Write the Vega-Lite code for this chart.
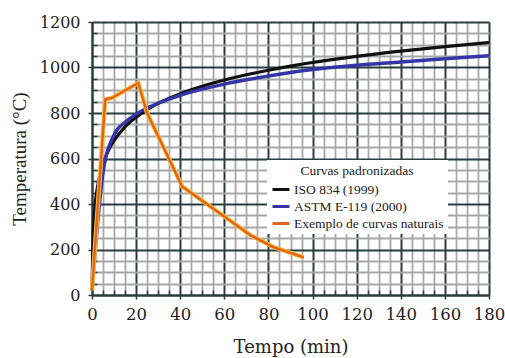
{
  "$schema": "https://vega.github.io/schema/vega-lite/v6.json",
  "width": 397,
  "height": 273,
  "autosize": {"type": "none"},
  "padding": {"left": 92, "top": 22, "right": 16, "bottom": 63},
  "background": "white",
  "config": {
    "view": {"stroke": null},
    "font": "Liberation Serif"
  },
  "datasets": {
    "curves": [
      {"t": 0, "T": 20, "s": "ISO 834 (1999)"},
      {"t": 0.5, "T": 261, "s": "ISO 834 (1999)"},
      {"t": 1, "T": 349, "s": "ISO 834 (1999)"},
      {"t": 1.5, "T": 404, "s": "ISO 834 (1999)"},
      {"t": 2, "T": 445, "s": "ISO 834 (1999)"},
      {"t": 3, "T": 502, "s": "ISO 834 (1999)"},
      {"t": 5, "T": 576, "s": "ISO 834 (1999)"},
      {"t": 7.5, "T": 636, "s": "ISO 834 (1999)"},
      {"t": 10, "T": 678, "s": "ISO 834 (1999)"},
      {"t": 15, "T": 739, "s": "ISO 834 (1999)"},
      {"t": 20, "T": 781, "s": "ISO 834 (1999)"},
      {"t": 25, "T": 815, "s": "ISO 834 (1999)"},
      {"t": 30, "T": 842, "s": "ISO 834 (1999)"},
      {"t": 40, "T": 885, "s": "ISO 834 (1999)"},
      {"t": 50, "T": 918, "s": "ISO 834 (1999)"},
      {"t": 60, "T": 945, "s": "ISO 834 (1999)"},
      {"t": 70, "T": 968, "s": "ISO 834 (1999)"},
      {"t": 80, "T": 988, "s": "ISO 834 (1999)"},
      {"t": 90, "T": 1006, "s": "ISO 834 (1999)"},
      {"t": 100, "T": 1022, "s": "ISO 834 (1999)"},
      {"t": 120, "T": 1049, "s": "ISO 834 (1999)"},
      {"t": 140, "T": 1072, "s": "ISO 834 (1999)"},
      {"t": 160, "T": 1092, "s": "ISO 834 (1999)"},
      {"t": 180, "T": 1110, "s": "ISO 834 (1999)"},
      {"t": 0, "T": 20, "s": "ASTM E-119 (2000)"},
      {"t": 5, "T": 538, "s": "ASTM E-119 (2000)"},
      {"t": 10, "T": 704, "s": "ASTM E-119 (2000)"},
      {"t": 15, "T": 759, "s": "ASTM E-119 (2000)"},
      {"t": 20, "T": 795, "s": "ASTM E-119 (2000)"},
      {"t": 25, "T": 822, "s": "ASTM E-119 (2000)"},
      {"t": 30, "T": 843, "s": "ASTM E-119 (2000)"},
      {"t": 40, "T": 878, "s": "ASTM E-119 (2000)"},
      {"t": 50, "T": 905, "s": "ASTM E-119 (2000)"},
      {"t": 60, "T": 927, "s": "ASTM E-119 (2000)"},
      {"t": 70, "T": 946, "s": "ASTM E-119 (2000)"},
      {"t": 80, "T": 963, "s": "ASTM E-119 (2000)"},
      {"t": 90, "T": 978, "s": "ASTM E-119 (2000)"},
      {"t": 100, "T": 991, "s": "ASTM E-119 (2000)"},
      {"t": 120, "T": 1010, "s": "ASTM E-119 (2000)"},
      {"t": 140, "T": 1024, "s": "ASTM E-119 (2000)"},
      {"t": 160, "T": 1038, "s": "ASTM E-119 (2000)"},
      {"t": 180, "T": 1052, "s": "ASTM E-119 (2000)"},
      {"t": 0, "T": 20, "s": "Exemplo de curvas naturais"},
      {"t": 6, "T": 860, "s": "Exemplo de curvas naturais"},
      {"t": 9, "T": 866, "s": "Exemplo de curvas naturais"},
      {"t": 21, "T": 932, "s": "Exemplo de curvas naturais"},
      {"t": 25, "T": 800, "s": "Exemplo de curvas naturais"},
      {"t": 41, "T": 475, "s": "Exemplo de curvas naturais"},
      {"t": 42.5, "T": 466, "s": "Exemplo de curvas naturais"},
      {"t": 72, "T": 262, "s": "Exemplo de curvas naturais"},
      {"t": 82, "T": 212, "s": "Exemplo de curvas naturais"},
      {"t": 96, "T": 165, "s": "Exemplo de curvas naturais"}
    ]
  },
  "data": {"name": "curves"},
  "encoding": {
    "x": {
      "field": "t", "type": "quantitative",
      "scale": {"domain": [0, 180], "nice": false, "zero": false},
      "axis": {
        "title": "Tempo (min)",
        "titleFont": "DejaVu Serif",
        "titleFontWeight": 400,
        "titleColor": "#222222",
        "titleFontSize": 18,
        "titlePadding": 16,
        "values": [0,5,10,15,20,25,30,35,40,45,50,55,60,65,70,75,80,85,90,95,100,105,110,115,120,125,130,135,140,145,150,155,160,165,170,175,180],
        "format": "d",
        "labelExpr": "datum.value % 20 === 0 ? datum.label : ''",
        "labelFont": "DejaVu Serif",
        "labelColor": "#222222",
        "labelFontSize": 16.5,
        "labelPadding": 7,
        "labelFlush": false,
        "labelOverlap": false,
        "grid": true,
        "gridColor": {"condition": {"test": "datum.value % 20 === 0", "value": "#2b3d3d"}, "value": "#a8a8a8"},
        "gridWidth": {"condition": {"test": "datum.value % 20 === 0", "value": 2}, "value": 1.8},
        "gridOpacity": 1,
        "tickColor": "#2b3d3d",
        "tickWidth": 1.5,
        "tickSize": {"condition": {"test": "datum.value % 20 === 0", "value": 4}, "value": -5},
        "domainColor": "#2b3d3d",
        "domainWidth": 2
      }
    },
    "y": {
      "field": "T", "type": "quantitative",
      "scale": {"domain": [0, 1200], "nice": false},
      "axis": {
        "title": "Temperatura (°C)",
        "titleFont": "Liberation Serif",
        "titleFontWeight": "normal",
        "titleColor": "#222222",
        "titleFontSize": 19,
        "titlePadding": 10,
        "values": [0,50,100,150,200,250,300,350,400,450,500,550,600,650,700,750,800,850,900,950,1000,1050,1100,1150,1200],
        "format": "d",
        "labelExpr": "datum.value % 200 === 0 ? datum.label : ''",
        "labelFont": "DejaVu Serif",
        "labelColor": "#222222",
        "labelFontSize": 16,
        "labelPadding": 8,
        "labelFlush": false,
        "labelOverlap": false,
        "grid": true,
        "gridColor": {"condition": {"test": "datum.value % 200 === 0", "value": "#2b3d3d"}, "value": "#a8a8a8"},
        "gridWidth": {"condition": {"test": "datum.value % 200 === 0", "value": 2}, "value": 1.8},
        "gridOpacity": 1,
        "tickColor": "#2b3d3d",
        "tickWidth": 1.5,
        "tickSize": {"condition": {"test": "datum.value % 200 === 0", "value": 4}, "value": -5},
        "domainColor": "#2b3d3d",
        "domainWidth": 2
      }
    }
  },
  "layer": [
    {
      "transform": [{"filter": "datum.s === 'ISO 834 (1999)'"}],
      "mark": {"type": "line", "strokeWidth": 3.2, "interpolate": "monotone"},
      "encoding": {
        "color": {
          "field": "s", "type": "nominal",
          "scale": {"domain": ["ISO 834 (1999)", "ASTM E-119 (2000)", "Exemplo de curvas naturais"], "range": ["#111111", "#3535a8", "#e0641c"]},
          "legend": {
            "title": "Curvas padronizadas",
            "orient": "none",
            "legendX": 175,
            "legendY": 138,
            "fillColor": "white",
            "padding": 4,
            "titleAnchor": "middle",
            "titleFont": "Liberation Serif",
            "titleFontSize": 13.5,
            "titleFontWeight": "normal",
            "titleColor": "#222222",
            "titlePadding": 2,
            "labelFont": "Liberation Serif",
            "labelFontSize": 13.5,
            "labelColor": "#222222",
            "labelOffset": 3,
            "rowPadding": 0,
            "symbolType": "stroke",
            "symbolSize": 289,
            "symbolStrokeWidth": 3
          }
        }
      }
    },
    {
      "transform": [{"filter": "datum.s === 'ASTM E-119 (2000)'"}],
      "mark": {"type": "line", "strokeWidth": 3.5, "interpolate": "monotone"},
      "encoding": {"color": {"field": "s", "type": "nominal"}}
    },
    {
      "transform": [{"filter": "datum.s === 'Exemplo de curvas naturais'"}],
      "mark": {"type": "line", "strokeWidth": 4.5, "color": "#f4bf45"},
      "encoding": {}
    },
    {
      "transform": [{"filter": "datum.s === 'Exemplo de curvas naturais'"}],
      "mark": {"type": "line", "strokeWidth": 2.4},
      "encoding": {"color": {"field": "s", "type": "nominal"}}
    }
  ]
}
